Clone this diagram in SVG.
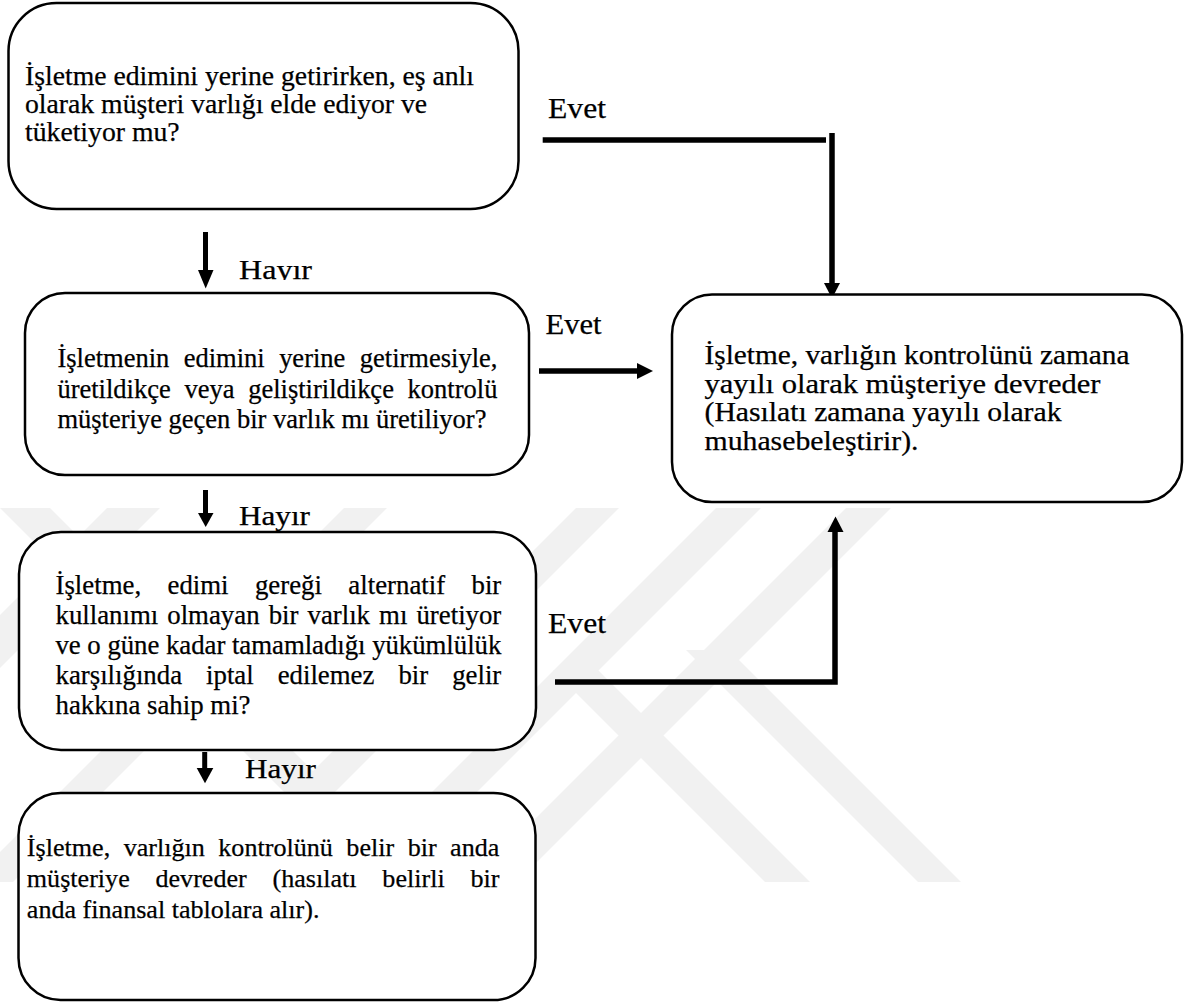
<svg xmlns="http://www.w3.org/2000/svg" width="1197" height="1005" viewBox="0 0 1197 1005">
<style>
.box{fill:#fff;stroke:#000;stroke-width:2.5}
.t{font-family:"Liberation Serif","Times New Roman",serif;fill:#000;stroke:#000;stroke-width:0.25}
.lbl{font-family:"Liberation Serif","Times New Roman",serif;fill:#000;stroke:#000;stroke-width:0.25}
.ln{fill:none;stroke:#000;stroke-width:5.5}
.ah{fill:#000}
.wm{fill:#f1f1f1}
</style>
<defs>
<clipPath id="clipH1"><rect x="230" y="240" width="100" height="40"/></clipPath>
<clipPath id="clipWM"><rect x="0" y="508" width="1197" height="374"/></clipPath>
</defs>
<rect width="1197" height="1005" fill="#fff"/>
<g id="watermark" clip-path="url(#clipWM)">
<polygon class="wm" points="0,508 50,508 424,882 374,882"/>
<polygon class="wm" points="107,508 160,508 -214,882 -267,882"/>
<polygon class="wm" points="344,508 387,508 13,882 -30,882"/>
<polygon class="wm" points="576,508 619,508 245,882 202,882"/>
<polygon class="wm" points="716,508 761,508 387,882 342,882"/>
<polygon class="wm" points="846,508 891,508 517,882 472,882"/>
<polygon class="wm" points="553,670 598,670 810,882 765,882"/>
<polygon class="wm" points="686,650 729,650 961,882 918,882"/>
</g>
<g id="connectors">
<line class="ln" x1="542.7" y1="140" x2="826" y2="140"/>
<line class="ln" x1="832" y1="133" x2="832" y2="284"/>
<polygon class="ah" points="824,283 840,283 832,298.5"/>
<line class="ln" x1="539" y1="371" x2="638" y2="371"/>
<polygon class="ah" points="637,363 637,379 653,371"/>
<polyline class="ln" points="555,682 835,682 835,531"/>
<polygon class="ah" points="827.5,532 843.5,532 835.5,516.5"/>
<line class="ln" x1="205.5" y1="232" x2="205.5" y2="271" style="stroke-width:5"/>
<polygon class="ah" points="198,270 213.5,270 205.7,288.5"/>
<line class="ln" x1="205.5" y1="490" x2="205.5" y2="514" style="stroke-width:5"/>
<polygon class="ah" points="198,513 213.5,513 205.7,527"/>
<line class="ln" x1="204.7" y1="752" x2="204.7" y2="769" style="stroke-width:5"/>
<polygon class="ah" points="196.7,768 213.3,768 205,783.3"/>
<text class="lbl" x="548" y="118" font-size="29" textLength="58" lengthAdjust="spacingAndGlyphs">Evet</text>
<text class="lbl" x="545.5" y="334.3" font-size="29" textLength="56" lengthAdjust="spacingAndGlyphs">Evet</text>
<text class="lbl" x="548" y="633" font-size="29" textLength="58" lengthAdjust="spacingAndGlyphs">Evet</text>
<text class="lbl" x="239" y="279" font-size="27.5" textLength="73" lengthAdjust="spacingAndGlyphs" clip-path="url(#clipH1)">Hayır</text>
<text class="lbl" x="239" y="525" font-size="27.5" textLength="71" lengthAdjust="spacingAndGlyphs">Hayır</text>
<text class="lbl" x="245" y="778" font-size="27.5" textLength="71" lengthAdjust="spacingAndGlyphs">Hayır</text>
</g>
<g id="node1">
<rect class="box" x="8.5" y="3" width="510" height="206" rx="48"/>
<text class="t" font-size="27.7">
<tspan x="25" y="85">İşletme edimini yerine getirirken, eş anlı</tspan>
<tspan x="25" y="113">olarak müşteri varlığı elde ediyor ve</tspan>
<tspan x="25" y="141">tüketiyor mu?</tspan>
</text>
</g>
<g id="node2">
<rect class="box" x="25" y="293" width="504" height="182" rx="40"/>
<text class="t" font-size="26.5" x="57.4" y="367" word-spacing="7.8" textLength="440" lengthAdjust="spacing">İşletmenin edimini yerine getirmesiyle,</text>
<text class="t" font-size="26.5" x="57.4" y="397.5" word-spacing="7.1" textLength="440" lengthAdjust="spacing">üretildikçe veya geliştirildikçe kontrolü</text>
<text class="t" font-size="26.5" x="57.4" y="428">müşteriye geçen bir varlık mı üretiliyor?</text>
</g>
<g id="node4">
<rect class="box" x="672" y="294.5" width="510" height="207.5" rx="40"/>
<text class="t" font-size="27" x="704.5" y="364" textLength="425" lengthAdjust="spacingAndGlyphs">İşletme, varlığın kontrolünü zamana</text>
<text class="t" font-size="27" x="704.5" y="392.5" textLength="396" lengthAdjust="spacingAndGlyphs">yayılı olarak müşteriye devreder</text>
<text class="t" font-size="27" x="704.5" y="421" textLength="357" lengthAdjust="spacingAndGlyphs">(Hasılatı zamana yayılı olarak</text>
<text class="t" font-size="27" x="704.5" y="449.5" textLength="214" lengthAdjust="spacingAndGlyphs">muhasebeleştirir).</text>
</g>
<g id="node3">
<rect class="box" x="19" y="532" width="517" height="218" rx="42"/>
<text class="t" font-size="26.8" x="55.5" y="594" word-spacing="19.7" textLength="445.8" lengthAdjust="spacing">İşletme, edimi gereği alternatif bir</text>
<text class="t" font-size="26.8" x="55.5" y="624" word-spacing="2.4" textLength="445.8" lengthAdjust="spacing">kullanımı olmayan bir varlık mı üretiyor</text>
<text class="t" font-size="26.8" x="55.5" y="654" textLength="445.8" lengthAdjust="spacing">ve o güne kadar tamamladığı yükümlülük</text>
<text class="t" font-size="26.8" x="55.5" y="684" word-spacing="17.3" textLength="445.8" lengthAdjust="spacing">karşılığında iptal edilemez bir gelir</text>
<text class="t" font-size="26.8" x="55.5" y="714">hakkına sahip mi?</text>
</g>
<g id="node5">
<rect class="box" x="18.5" y="793" width="517" height="207" rx="42"/>
<text class="t" font-size="26.1" x="26.8" y="856" word-spacing="6.9" textLength="472.6" lengthAdjust="spacing">İşletme, varlığın kontrolünü belir bir anda</text>
<text class="t" font-size="26.1" x="26.8" y="887" word-spacing="19.2" textLength="472.6" lengthAdjust="spacing">müşteriye devreder (hasılatı belirli bir</text>
<text class="t" font-size="26.1" x="26.8" y="918">anda finansal tablolara alır).</text>
</g>
</svg>
